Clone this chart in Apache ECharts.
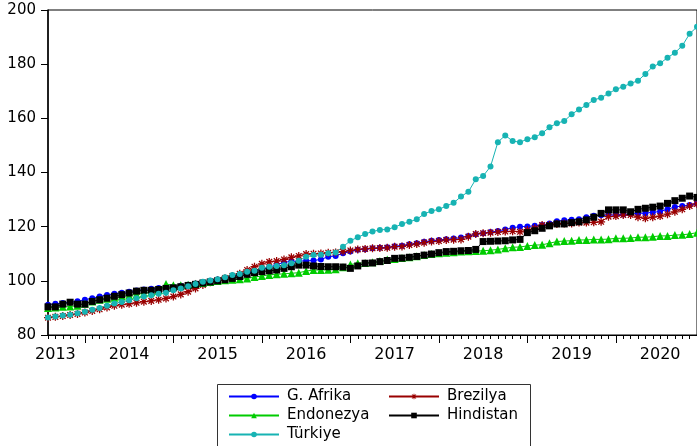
<!DOCTYPE html>
<html>
<head>
<meta charset="utf-8">
<script src="https://cdn.jsdelivr.net/npm/echarts@6/dist/echarts.min.js"></script>
<style>
  html, body { margin: 0; padding: 0; background: #fff; }
  #chart { width: 697px; height: 446px; }
</style>
</head>
<body>
<div id="chart"></div>
<script>
// monthly observations, 2013M08 .. 2020M12
var months = [];
for (var y = 2013; y <= 2020; y++) {
  for (var m = 1; m <= 12; m++) {
    if (y === 2013 && m < 8) continue;
    months.push(y + '-' + (m < 10 ? '0' + m : m));
  }
}

var yearLabels = ['2013', '2014', '2015', '2016', '2017', '2018', '2019', '2020'];

var gAfrika = [
  91.2, 91.5, 91.8, 92.1, 92.5, 93.0, 93.6, 94.2, 94.8, 95.2, 95.6, 96.0, 96.4, 96.8, 97.1, 97.4, 97.6,
  97.8, 98.2, 98.6, 99.0, 99.5, 100.0, 100.5, 101.0, 101.6, 102.2, 102.8, 103.4,
  104.0, 105.0, 106.0, 106.8, 107.2, 107.3, 107.4, 107.5,
  107.9, 108.9, 109.2, 110.2, 110.8,
  111.5, 111.7, 112.0, 112.2, 112.4, 112.8, 113.0, 113.5, 113.9, 114.4, 114.8, 115.1, 115.4, 115.6, 116.0, 116.6,
  117.2, 117.6, 118.0, 118.4, 119.0, 119.6,
  120.0, 120.1, 120.3, 120.6, 121.2, 122.0, 122.4, 122.6, 122.7, 123.5, 124.0, 124.2, 124.3, 124.4, 124.5, 124.7,
  124.9, 125.0, 125.3, 125.6, 126.4, 127.3, 127.6, 128.0, 128.6
];

var brezilya = [
  86.4, 86.7, 87.0, 87.4, 87.8, 88.3, 88.9, 89.5, 90.2, 90.8, 91.2, 91.5, 91.9, 92.3, 92.6, 93.0, 93.5, 94.2, 95.0, 96.0, 97.2,
  98.5, 99.5, 100.3, 101.0, 101.8, 102.6, 104.0, 105.2,
  106.3, 107.0, 107.3, 107.9, 108.7, 109.2, 109.9, 110.0, 110.1, 110.4, 110.5, 110.8, 111.2,
  111.6, 111.8, 112.0, 112.1, 112.2, 112.6, 112.7, 113.2, 113.6, 114.1, 114.5, 114.7, 115.1, 115.2, 115.3, 116.3,
  117.3, 117.6, 117.8, 118.0, 118.2, 118.3,
  118.1, 118.8, 119.4, 120.6, 120.6, 121.0, 121.2, 121.2, 121.5, 121.5, 121.6, 121.8, 123.7, 123.9, 124.3, 124.3,
  123.5, 123.1, 123.5, 123.9, 124.6, 125.5, 126.4, 127.6, 128.4
];

var endonezya = [
  90.0, 90.2, 90.4, 90.5, 90.8, 91.5, 92.4, 93.0, 93.4, 93.8, 94.2, 94.6, 95.0, 95.4, 95.8, 96.5,
  98.8, 98.4, 98.4, 98.6, 98.9,
  99.2, 99.6, 99.9, 100.2, 100.4, 100.6, 100.9, 101.4, 101.8, 102.2, 102.4, 102.6, 102.8, 103.0, 103.6, 104.0, 104.0, 104.1, 104.3,
  105.0, 106.0, 106.5, 106.6,
  106.9, 107.3, 107.9, 108.1, 108.4, 108.7, 109.1, 109.5, 109.9, 110.2, 110.4, 110.6, 110.8, 110.9, 111.0,
  111.1, 111.3, 111.6, 112.0, 112.4,
  112.5, 112.9, 113.2, 113.3, 113.9, 114.5, 114.7, 114.8, 115.1, 115.1, 115.3, 115.3, 115.4, 115.7, 115.7, 115.8,
  116.1, 116.1, 116.3, 116.6, 116.6, 116.9, 117.0, 117.3, 117.8
];

var hindistan = [
  90.4, 90.4, 91.4, 92.1, 91.4, 91.4, 92.4, 93.0, 93.6, 94.3, 94.9, 95.5, 96.2, 96.5, 96.5, 96.8, 97.2, 97.4, 97.8, 98.3, 98.7,
  99.2, 99.6, 100.0, 100.4, 100.9, 101.6, 102.4, 103.0, 103.4, 103.7, 104.0, 104.6, 105.2, 105.8, 105.8, 105.5,
  105.3, 105.2, 105.2, 105.1, 104.6, 105.5,
  106.5, 106.6, 107.1, 107.5, 108.3, 108.4, 108.7, 109.0, 109.5, 109.9, 110.4, 110.8, 110.9, 111.1, 111.2, 111.6,
  114.5, 114.6, 114.7, 114.8, 115.1,
  115.3, 117.8, 118.5, 119.4, 120.3, 121.0, 121.0, 121.5, 121.8, 122.5, 123.5, 124.9, 126.2, 126.2, 126.2, 125.5,
  126.4, 126.8, 127.2, 127.6, 128.6, 129.6, 130.5, 131.3, 130.8
];

var turkiye = [
  86.5, 86.8, 87.2, 87.5, 88.0, 88.6, 89.3, 90.0, 90.8, 91.6, 92.2, 92.8, 93.6, 94.2, 94.7, 95.2, 95.6,
  96.5, 97.2, 98.0, 98.8, 99.7, 100.1, 100.6, 101.3, 102.2, 102.5, 103.4, 103.7,
  104.8, 105.2, 105.5, 105.8, 106.5, 107.4, 108.9, 109.5, 109.6, 110.2, 110.5, 112.6, 114.8, 116.1,
  117.3, 118.2, 118.8, 119.0, 119.8, 121.0, 121.8, 122.7, 124.7, 125.8, 126.4, 127.6, 128.8, 131.1, 132.9,
  137.5, 138.7, 142.2, 151.2, 153.7, 151.6, 151.2, 152.3, 153.0, 154.5, 156.7, 158.2, 159.0, 161.5, 163.3, 164.9,
  166.8, 167.6, 169.2, 170.7, 171.7, 172.9, 173.9, 176.4, 179.1, 180.3, 182.4, 184.2, 186.8, 191.2, 193.8
];

var FONT = '"DejaVu Sans", "Liberation Sans", Arial, sans-serif';

// asterisk marker built from four bars
var asterisk = 'path://M-0.8,-5L0.8,-5L0.8,5L-0.8,5Z' +
  'M-5,0.8L-5,-0.8L5,-0.8L5,0.8Z' +
  'M-4.11,-2.97L-2.97,-4.11L4.11,2.97L2.97,4.11Z' +
  'M-2.97,4.11L-4.11,2.97L2.97,-4.11L4.11,-2.97Z';

var chart = echarts.init(document.getElementById('chart'));

function mkSeries(name, data, color, symbol, size) {
  return {
    name: name,
    type: 'line',
    data: data,
    symbol: symbol,
    symbolSize: size,
    showSymbol: true,
    showAllSymbol: true,
    animation: false,
    lineStyle: { color: color, width: 1 },
    itemStyle: { color: color },
    emphasis: { disabled: true }
  };
}

function mkLegend(left, names) {
  return {
    orient: 'vertical',
    left: left,
    top: 389,
    height: 70,
    padding: 0,
    itemWidth: 50,
    itemHeight: 7,
    itemGap: 4,
    selectedMode: false,
    textStyle: { fontFamily: FONT, fontSize: 15, color: '#000', padding: [0, 0, 0, 3] },
    data: names
  };
}

var option = {
  animation: false,
  grid: {
    left: 48,
    right: -1,
    top: 10,
    bottom: 111,
    show: true,
    borderColor: '#000',
    borderWidth: 1
  },
  xAxis: [
    {
      type: 'category',
      position: 'bottom',
      data: months,
      boundaryGap: false,
      axisLine: { lineStyle: { color: '#000', width: 1 } },
      axisTick: { interval: 0, length: 4, lineStyle: { color: '#000' } },
      axisLabel: {
        interval: function (idx, val) {
          return idx === 1 || (val.slice(5) === '07');
        },
        formatter: function (val) {
          var yr = val.slice(0, 4);
          return yearLabels.indexOf(yr) >= 0 ? yr : '';
        },
        color: '#000',
        fontFamily: FONT,
        fontSize: 16,
        margin: 12
      },
      splitLine: { show: false }
    },
    {
      type: 'category',
      position: 'bottom',
      data: months,
      boundaryGap: false,
      axisLine: { show: false },
      axisTick: {
        interval: function (idx, val) { return val.slice(5) === '01'; },
        length: 8,
        lineStyle: { color: '#000' }
      },
      axisLabel: { show: false },
      splitLine: { show: false }
    }
  ],
  yAxis: {
    type: 'value',
    min: 80,
    max: 200,
    interval: 20,
    axisLine: { show: true, lineStyle: { color: '#000', width: 1.5 } },
    axisTick: { show: true, length: 7, lineStyle: { color: '#000' } },
    axisLabel: { color: '#000', fontFamily: FONT, fontSize: 15, margin: 12 },
    splitLine: { show: false }
  },
  legend: [
    mkLegend(228, ['G. Afrika', 'Endonezya', 'Türkiye']),
    mkLegend(388, ['Brezilya', 'Hindistan'])
  ],
  graphic: [
    {
      type: 'rect',
      shape: { x: 217.5, y: 384.5, width: 313, height: 80 },
      style: { fill: 'none', stroke: '#333', lineWidth: 1 },
      silent: true
    }
  ],
  series: [
    mkSeries('G. Afrika', gAfrika, '#0000ff', 'circle', 6),
    mkSeries('Brezilya', brezilya, '#990000', asterisk, 8),
    mkSeries('Endonezya', endonezya, '#00cc00', 'triangle', 8),
    mkSeries('Hindistan', hindistan, '#000000', 'rect', 7),
    mkSeries('Türkiye', turkiye, '#17b3b3', 'circle', 6)
  ]
};

chart.setOption(option);
window.addEventListener('resize', function () { chart.resize(); });
</script>
</body>
</html>
